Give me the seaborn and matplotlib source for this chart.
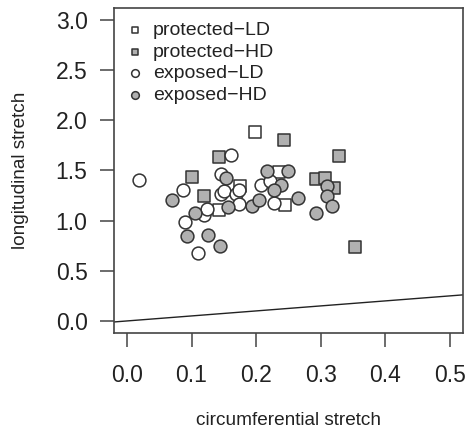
import numpy as np
import pandas as pd
import matplotlib
matplotlib.use("Agg")
import matplotlib.pyplot as plt
import seaborn as sns

sns.set_style("ticks")
plt.rcParams['font.family'] = ['Liberation Sans', 'DejaVu Sans']

# ---- data ----
prot_ld_x = [0.198, 0.142, 0.236, 0.244, 0.175]
prot_ld_y = [1.88, 1.11, 1.48, 1.16, 1.35]

prot_hd_x = [0.101, 0.119, 0.142, 0.243, 0.328, 0.292, 0.306, 0.320, 0.353]
prot_hd_y = [1.44, 1.25, 1.63, 1.80, 1.64, 1.42, 1.43, 1.33, 0.74]

exp_ld_x = [0.019, 0.086, 0.090, 0.110, 0.120, 0.124, 0.161, 0.145, 0.145,
            0.150, 0.168, 0.174, 0.173, 0.208, 0.222, 0.227]
exp_ld_y = [1.41, 1.31, 0.99, 0.68, 1.06, 1.12, 1.65, 1.46, 1.27,
            1.30, 1.27, 1.31, 1.17, 1.36, 1.40, 1.18]

exp_hd_x = [0.069, 0.093, 0.106, 0.125, 0.144, 0.153, 0.156, 0.194, 0.204,
            0.217, 0.250, 0.238, 0.227, 0.265, 0.310, 0.310, 0.317, 0.292]
exp_hd_y = [1.21, 0.85, 1.08, 0.86, 0.75, 1.43, 1.14, 1.15, 1.21,
            1.49, 1.49, 1.36, 1.31, 1.23, 1.35, 1.25, 1.15, 1.08]

groups = ["protected\u2212LD", "protected\u2212HD", "exposed\u2212LD", "exposed\u2212HD"]
xs = [prot_ld_x, prot_hd_x, exp_ld_x, exp_hd_x]
ys = [prot_ld_y, prot_hd_y, exp_ld_y, exp_hd_y]

line_intercept = 0.0
line_slope = 0.5

x_ticks = [0.0, 0.1, 0.2, 0.3, 0.4, 0.5]
y_ticks = [0.0, 0.5, 1.0, 1.5, 2.0, 2.5, 3.0]

# ---- styles ----
markers = ["s", "s", "o", "o"]
fills = ["white", "#b0b0b0", "white", "#b0b0b0"]
sizes = [66, 66, 85, 85]
edge = "#333333"

fig = plt.figure(figsize=(4.68, 4.29), dpi=100)
ax = fig.add_axes([0.2436, 0.2238, 0.7457, 0.7576])

for g, x, y, m, c, s in zip(groups, xs, ys, markers, fills, sizes):
    df = pd.DataFrame({"x": x, "y": y})
    sns.scatterplot(data=df, x="x", y="y", marker=m, color=c, s=s,
                    edgecolor=edge, linewidth=1.1, label=g, ax=ax, zorder=3)

ax.axline((0, line_intercept), slope=line_slope, color="#222222", lw=1.0, zorder=2)

ax.set_xlim(-0.02, 0.52)
ax.set_ylim(-0.12, 3.12)
ax.set_xticks(x_ticks)
ax.set_yticks(y_ticks)
ax.set_xticklabels([f"{v:.1f}" for v in x_ticks])
ax.set_yticklabels([f"{v:.1f}" for v in y_ticks])

for sp in ax.spines.values():
    sp.set_visible(True)
    sp.set_color("#444444")
    sp.set_linewidth(1.2)

ax.tick_params(axis="both", direction="out", length=10, width=1.1,
               color="#444444", labelsize=16.5, labelcolor="#222222")
ax.tick_params(axis="x", pad=12)
ax.tick_params(axis="y", pad=9)

ax.set_xlabel("circumferential stretch", fontsize=13.7, color="#222222", labelpad=18)
ax.set_ylabel("longitudinal stretch", fontsize=13.7, color="#222222", labelpad=19)

leg = ax.legend(loc="upper left", frameon=False, fontsize=14, markerscale=0.6,
                handlelength=0.8, handletextpad=0.5, labelspacing=0.2,
                borderaxespad=0.4, borderpad=0.3)
for t in leg.get_texts():
    t.set_color("#222222")

fig.savefig("out.png", dpi=100)
